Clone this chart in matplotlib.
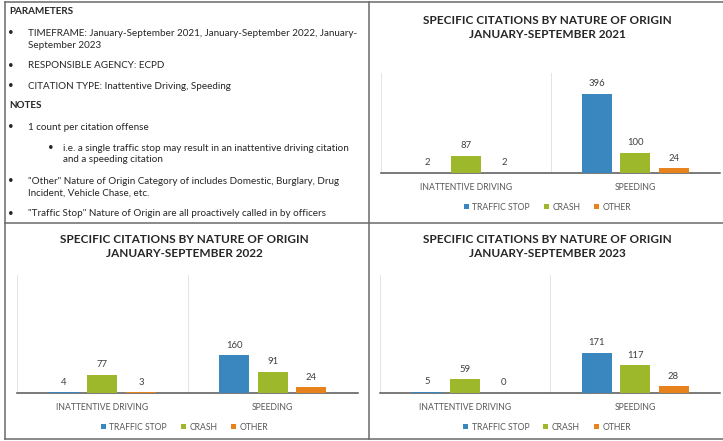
import matplotlib
matplotlib.use("Agg")
import matplotlib.pyplot as plt
from matplotlib.lines import Line2D
import numpy as np

plt.rcParams['font.family'] = ['Lato', 'DejaVu Sans']

# citation counts by year, [inattentive driving, speeding]
categories = ['INATTENTIVE DRIVING', 'SPEEDING']
origins = ['TRAFFIC STOP', 'CRASH', 'OTHER']
years = ['2021', '2022', '2023']
traffic_stop = {'2021': [2, 396], '2022': [4, 160], '2023': [5, 171]}
crash = {'2021': [87, 100], '2022': [77, 91], '2023': [59, 117]}
other = {'2021': [2, 24], '2022': [3, 24], '2023': [0, 28]}

colors = ['#3a87c0', '#9db82a', '#e8821c']

W, H = 723, 441
fig = plt.figure(figsize=(W / 100, H / 100), dpi=100)


def fx(px):
    return px / W


def fy(py):
    return 1 - py / H


# panel borders
border = '#6a6a6a'
for x0, y0, x1, y1 in [(5, 2, 5, 439), (369, 2, 369, 439), (5, 2, 723, 2),
                       (5, 223, 723, 223), (5, 439, 723, 439)]:
    fig.add_artist(Line2D([fx(x0), fx(x1)], [fy(y0), fy(y1)], color=border, lw=1.1))

# parameters / notes text
txt = '#262626'
fs = 7.1
fig.text(fx(9), fy(11), 'PARAMETERS', fontsize=fs, weight='bold', color=txt, va='center')
fig.text(fx(9), fy(106), 'NOTES', fontsize=fs, weight='bold', color=txt, va='center')
bullets = [
    (33, ['TIMEFRAME: January-September 2021, January-September 2022, January-',
          'September 2023'], 0),
    (66, ['RESPONSIBLE AGENCY: ECPD'], 0),
    (86, ['CITATION TYPE: Inattentive Driving, Speeding'], 0),
    (127, ['1 count per citation offense'], 0),
    (148, ['i.e. a single traffic stop may result in an inattentive driving citation',
           'and a speeding citation'], 1),
    (181, ['"Other" Nature of Origin Category of includes Domestic, Burglary, Drug',
           'Incident, Vehicle Chase, etc.'], 0),
    (214, ['"Traffic Stop" Nature of Origin are all proactively called in by officers'], 0),
]
for y, lines, lvl in bullets:
    bx = 11 if lvl == 0 else 51
    tx = 28 if lvl == 0 else 63
    fig.text(fx(bx), fy(y - 0.5), '•', fontsize=fs, color=txt, va='center', ha='center')
    for k, s in enumerate(lines):
        fig.text(fx(tx), fy(y + 12 * k), s, fontsize=fs, color=txt, va='center')

# chart panels: (year, plot left, right, top, bottom, title y, legend y)
panels = [
    ('2021', 381, 720, 73, 173, 15, 207),
    ('2022', 17, 358, 275, 393, 234, 427),
    ('2023', 380, 720, 275, 393, 234, 427),
]

x = np.arange(len(categories))
bw = 0.176
offs = [-0.225, 0, 0.227]

for year, l, r, t, b, ty, ly in panels:
    ax = fig.add_axes([fx(l), fy(b), fx(r) - fx(l), fy(t) - fy(b)])
    series = [traffic_stop[year], crash[year], other[year]]
    for i, (vals, c) in enumerate(zip(series, colors)):
        bars = ax.bar(x + offs[i], vals, bw, color=c, label=origins[i], zorder=3)
        for rect, v in zip(bars, vals):
            ax.annotate(str(v), (rect.get_x() + rect.get_width() / 2, v),
                        xytext=(0, 4), textcoords='offset points', ha='center',
                        va='bottom', fontsize=6.8, color='#404040')
    ax.set_xlim(-0.5, 1.5)
    ax.set_ylim(0, 500)
    ax.set_yticks([])
    ax.set_xticks(x)
    ax.set_xticklabels(categories, fontsize=6.2, color='#595959')
    ax.tick_params(axis='x', length=0, pad=7)
    for s in ['top', 'right']:
        ax.spines[s].set_visible(False)
    ax.spines['left'].set_color('#e4e4e4')
    ax.spines['left'].set_linewidth(0.7)
    ax.spines['bottom'].set_color('#555555')
    ax.spines['bottom'].set_linewidth(1.1)
    ax.axvline(0.5, color='#e4e4e4', lw=0.7, zorder=1)
    ax.patch.set_alpha(0)

    cx = (l + r) / 2 - 3
    fig.text(fx(cx), fy(ty), 'SPECIFIC CITATIONS BY NATURE OF ORIGIN\nJANUARY-SEPTEMBER ' + year,
             ha='center', va='top', fontsize=8.5, weight='bold', color='#262626',
             linespacing=1.38)

    leg = ax.legend(loc='center', bbox_to_anchor=(fx(cx), fy(ly)),
                    bbox_transform=fig.transFigure, ncol=3, frameon=False,
                    fontsize=6.2, handlelength=0.6, handleheight=0.6,
                    handletextpad=0.4, columnspacing=1.6, borderpad=0)
    for tx in leg.get_texts():
        tx.set_color('#595959')

fig.savefig('out.png', dpi=100)
